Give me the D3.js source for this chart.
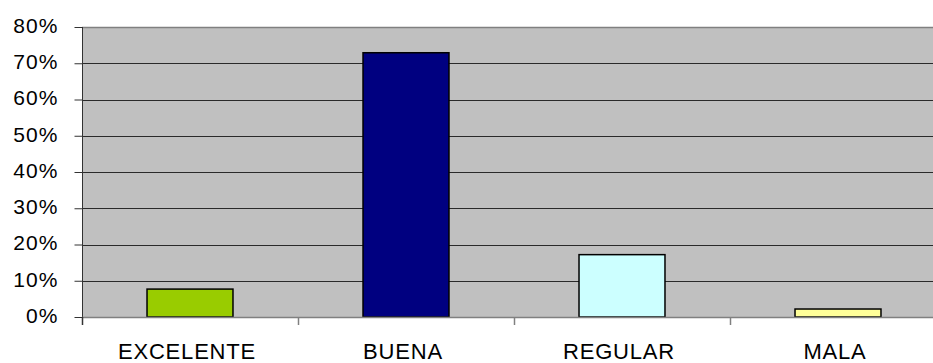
<!DOCTYPE html>
<html>
<head>
<meta charset="utf-8">
<script src="https://cdn.jsdelivr.net/npm/d3@7"></script>
<style>
  html, body { margin: 0; padding: 0; background: #fff; }
  svg { display: block; }
  text { font-family: "Liberation Sans", Arial, sans-serif; fill: #000; }
</style>
</head>
<body>
<svg id="chart" width="933" height="363"></svg>
<script>
// Survey results by rating
const categories = ["EXCELENTE", "BUENA", "REGULAR", "MALA"];
const values = [0.077, 0.729, 0.172, 0.022];
const barColors = ["#99CC00", "#000080", "#CCFFFF", "#FFFF99"];
const yTicks = [0, 0.1, 0.2, 0.3, 0.4, 0.5, 0.6, 0.7, 0.8];

const svg = d3.select("#chart");
const plot = { left: 82, right: 946, top: 27, bottom: 317 };

const x = d3.scaleBand()
  .domain(categories)
  .range([plot.left, plot.right])
  .paddingInner(0.602)
  .paddingOuter(0.301);

const xCat = d3.scaleBand()
  .domain(categories)
  .range([plot.left, plot.right])
  .padding(0);

const y = d3.scaleLinear()
  .domain([0, 0.8])
  .range([plot.bottom, plot.top]);

// plot background
svg.append("rect")
  .attr("x", plot.left)
  .attr("y", plot.top)
  .attr("width", plot.right - plot.left)
  .attr("height", plot.bottom - plot.top)
  .attr("fill", "#C0C0C0");

// horizontal gridlines
svg.append("g")
  .selectAll("line")
  .data(yTicks.filter(t => t > 0))
  .join("line")
  .attr("x1", plot.left)
  .attr("x2", plot.right)
  .attr("y1", d => Math.round(y(d)) + 0.5)
  .attr("y2", d => Math.round(y(d)) + 0.5)
  .attr("stroke", d => d === 0.8 ? "#808080" : "#2a2a2a")
  .attr("stroke-width", d => d === 0.8 ? 1.5 : 1);

// bars
svg.append("g")
  .selectAll("rect")
  .data(categories)
  .join("rect")
  .attr("x", d => x(d))
  .attr("y", (d, i) => y(values[i]))
  .attr("width", x.bandwidth())
  .attr("height", (d, i) => y(0) - y(values[i]))
  .attr("fill", (d, i) => barColors[i])
  .attr("stroke", "#000")
  .attr("stroke-width", 1.5);

// y axis
const yAxis = d3.axisLeft(y)
  .tickValues(yTicks)
  .tickFormat(d3.format(".0%"))
  .tickSize(8)
  .tickPadding(16);

const gy = svg.append("g")
  .attr("transform", `translate(${plot.left + 0.5},0)`)
  .call(yAxis);
gy.select(".domain").attr("stroke", "#333").attr("d", `M0,${plot.top}V${plot.bottom}`);
gy.selectAll(".tick line").attr("stroke", "#333");
gy.selectAll(".tick text")
  .attr("font-size", 21)
  .attr("letter-spacing", 1.1)
  .attr("dy", "0.26em")
  .style("font-family", "'Liberation Sans', Arial, sans-serif")
  .attr("fill", "#000");

// x axis baseline and category separators
const gx = svg.append("g");
gx.append("line")
  .attr("x1", plot.left)
  .attr("x2", plot.right)
  .attr("y1", plot.bottom + 0.5)
  .attr("y2", plot.bottom + 0.5)
  .attr("stroke", "#808080")
  .attr("stroke-width", 1.5);
gx.selectAll("line.sep")
  .data(categories)
  .join("line")
  .attr("class", "sep")
  .attr("x1", d => Math.round(xCat(d)) + 0.5)
  .attr("x2", d => Math.round(xCat(d)) + 0.5)
  .attr("y1", plot.bottom)
  .attr("y2", plot.bottom + 8)
  .attr("stroke", (d, i) => i === 0 ? "#333" : "#808080")
  .attr("stroke-width", 1.5);

// category labels
gx.selectAll("text")
  .data(categories)
  .join("text")
  .attr("x", d => xCat(d) + xCat.bandwidth() / 2 - 3)
  .attr("y", 359)
  .attr("text-anchor", "middle")
  .attr("font-size", 22)
  .attr("letter-spacing", 0.8)
  .text(d => d);
</script>
</body>
</html>
